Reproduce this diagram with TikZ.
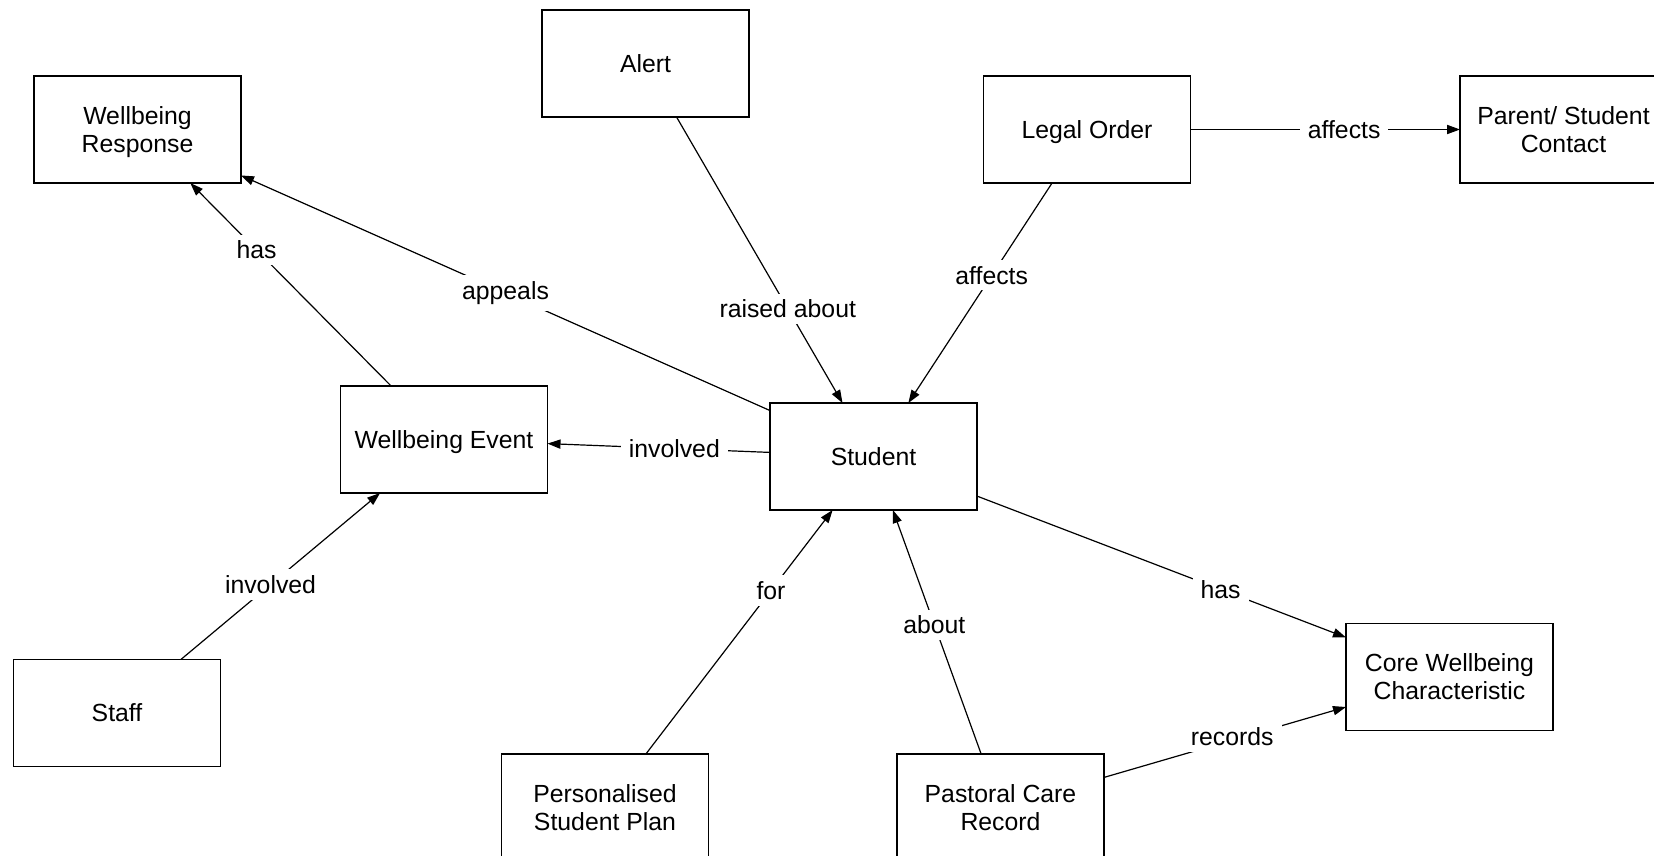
\documentclass[tikz,border=0pt]{standalone}
\usepackage{fontspec}
\setmainfont{Liberation Sans}
\usetikzlibrary{arrows.meta}
\begin{document}
\begin{tikzpicture}[x=0.5pt,y=-0.5pt,
  box/.style={draw=black, line width=0.7pt, rectangle, minimum width=103.5pt, minimum height=53.5pt,
    inner sep=0pt, outer sep=0pt, align=center, font=\fontsize{12.4}{14}\selectfont},
  oneline/.style={text depth=0pt},
  conn/.style={draw=black, line width=0.6pt, -{Triangle[length=6.5pt,width=4.6pt]}},
  lbl/.style={fill=white, inner xsep=4pt, inner ysep=3pt, font=\fontsize{12.4}{14}\selectfont}]
\useasboundingbox (0,0) rectangle (1654,856);
\node[box,oneline] (alert) at (645.5,63.5) {Alert};
\node[box] (wr) at (137.5,129.5) {Wellbeing\\Res\smash{p}onse};
\node[box,oneline] (legal) at (1087,129.5) {Legal Order};
\node[box] (parent) at (1563.5,129.5) {Parent/ Student\\Contact};
\node[box,oneline] (we) at (444,439.5) {Wellbeing Event};
\node[box,oneline] (student) at (873.5,456.5) {Student};
\node[box,oneline] (staff) at (117,713) {Staff};
\node[box] (psp) at (605,807.5) {Personalised\\Student Plan};
\node[box] (pcr) at (1000.5,807.5) {Pastoral Care\\Record};
\node[box] (cwc) at (1449.5,677) {Core Wellbeing\\Characteristic};

\draw[conn] (alert) -- node[lbl,pos=0.67] (l1) {raised about} (student);
\draw[conn] (legal) -- node[lbl,pos=0.42] (l2) {affects} (student);
\draw[conn] (legal) -- node[lbl,pos=0.57] (l3) {affects} (parent);
\draw[conn] (student) -- node[lbl,pos=0.5] (l4) {appeals} (wr);
\draw[conn] (we) -- node[lbl,pos=0.67] (l5) {has} (wr);
\draw[conn] (student) -- node[lbl,pos=0.43] (l6) {involved} (we);
\draw[conn] (staff) -- node[lbl,pos=0.45] (l7) {involved} (we);
\draw[conn] (psp) -- node[lbl,pos=0.67] (l8) {for} (student);
\draw[conn] (pcr) -- node[lbl,pos=0.53] (l9) {about} (student);
\draw[conn] (student) -- node[lbl,pos=0.66] (l10) {has} (cwc);
\draw[conn] (pcr) -- node[lbl,pos=0.53,yshift=1.5pt] (l11) {records} (cwc);
\end{tikzpicture}
\end{document}
